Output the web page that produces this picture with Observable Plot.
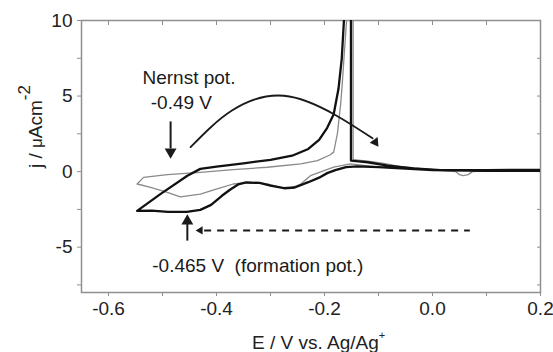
<!DOCTYPE html>
<html><head><meta charset="utf-8">
<script src="https://cdn.jsdelivr.net/npm/d3@7"></script>
<script src="https://cdn.jsdelivr.net/npm/@observablehq/plot@0.6"></script>
<style>body{margin:0;background:#fff} svg{display:block}</style>
</head><body><div id="chart"></div>
<script>
// Thick black cycle (E in V, j in µA cm^-2)
const thickE = [-0.547,-0.504,-0.454,-0.430,-0.40,-0.35,-0.30,-0.26,-0.23,-0.21,-0.195,-0.183,-0.174,-0.168,-0.164,-0.162,-0.151,-0.151,-0.137,-0.12,-0.083,-0.035,0.015,0.1,0.2,
  0.2,0.1,0.0,-0.05,-0.1,-0.14,-0.16,-0.18,-0.195,-0.21,-0.23,-0.255,-0.275,-0.30,-0.32,-0.345,-0.36,-0.375,-0.39,-0.41,-0.43,-0.455,-0.49,-0.52,-0.547];
const thickJ = [-2.6,-1.49,-0.27,0.18,0.33,0.55,0.78,1.05,1.5,2.1,2.9,3.8,5.5,7.5,10,12,12,0.73,0.68,0.62,0.4,0.22,0.1,0.1,0.12,
  0.05,0.05,0.1,0.2,0.3,0.35,0.3,0.1,-0.1,-0.4,-0.7,-1.05,-1.1,-0.93,-0.75,-0.72,-0.85,-1.2,-1.6,-2.2,-2.53,-2.67,-2.67,-2.58,-2.6];
// Thin grey cycle
const grayE = [-0.547,-0.535,-0.491,-0.430,-0.369,-0.306,-0.244,-0.213,-0.19,-0.183,-0.176,-0.170,-0.167,-0.163,-0.159,-0.157,-0.147,-0.147,-0.12,-0.09,-0.059,-0.004,0.043,0.05,0.057,0.066,0.074,0.12,0.2,
  0.2,0.1,0.0,-0.05,-0.1,-0.152,-0.183,-0.226,-0.244,-0.263,-0.281,-0.306,-0.337,-0.369,-0.399,-0.430,-0.467,-0.491,-0.522,-0.547];
const grayJ = [-0.82,-0.38,-0.2,-0.05,0.13,0.29,0.51,0.73,1.1,1.29,2.53,4.5,5.87,8,10.07,12,12,0.8,0.7,0.55,0.33,0.13,0.0,-0.2,-0.27,-0.2,0.0,0.08,0.1,
  0.05,0.05,0.15,0.25,0.3,0.51,0.29,-0.27,-0.82,-1.09,-1.05,-0.82,-0.71,-0.82,-1.15,-1.49,-1.67,-1.38,-1.05,-0.82];
// Curved arrow (annotation)
const curveE = [-0.448,-0.37,-0.275,-0.18,-0.111];
const curveJ = [1.62,4.07,5.02,3.75,2.2];
// Annotation arrows
const nernstE = -0.485, nernstJ = [3.29, 1.5], nernstHeadJ = 1.31;
const formE = -0.454, formJ = [-4.6, -3.4], formHeadJ = -3.28;
const dashJ = -3.89, dashE = [-0.43, 0.07], dashHeadE = -0.43;
const curveHead = {E: -0.106, J: 1.95};
// Texts
const centredLabels = [
  {E: -0.451, J: 6.22, text: "Nernst pot."},
  {E: -0.465, J: 4.53, text: "-0.49 V"}
];
const startLabels = [
  {E: -0.519, J: -6.27, text: "-0.465 V  (formation pot.)"}
];
// Ticks
const xTicks = [-0.6,-0.5,-0.4,-0.3,-0.2,-0.1,0,0.1,0.2];
const xTickLabels = ["-0.6","","-0.4","","-0.2","","0.0","","0.2"];
const yTicks = [-7.5,-5,-2.5,0,2.5,5,7.5,10];
const yTickLabels = ["","-5","","0","","5","","10"];

const thick = thickE.map((e,i)=>({E:e, J:thickJ[i]}));
const gray = grayE.map((e,i)=>({E:e, J:grayJ[i]}));
const curve = curveE.map((e,i)=>({E:e, J:curveJ[i]}));
const xFmt = d => xTickLabels[xTicks.findIndex(t => Math.abs(t-d) < 1e-9)] ?? "";
const yFmt = d => yTickLabels[yTicks.findIndex(t => Math.abs(t-d) < 1e-9)] ?? "";
const ink = "#1a1a1a";

const plot = Plot.plot({
  width: 553, height: 352,
  marginLeft: 81, marginRight: 13, marginTop: 20, marginBottom: 60,
  style: {fontFamily: "'Liberation Sans', Arial, sans-serif", fontSize: "19px", color: "#222", background: "#fff"},
  x: {domain: [-0.65, 0.2], label: null},
  y: {domain: [-8, 10], label: null},
  marks: [
    Plot.frame({stroke: "#8f8f8f", strokeWidth: 1.5}),
    Plot.axisX({ticks: xTicks, tickFormat: xFmt, tickSize: 4, tickPadding: 5, stroke: "#8f8f8f", fontSize: 19, fill: "#222"}),
    Plot.axisX({anchor: "top", ticks: xTicks, tickFormat: () => "", tickSize: -4, stroke: "#8f8f8f"}),
    Plot.axisY({ticks: yTicks, tickFormat: yFmt, tickSize: 4, tickPadding: 5, stroke: "#8f8f8f", fontSize: 19, fill: "#222"}),
    Plot.axisY({anchor: "right", ticks: yTicks, tickFormat: () => "", tickSize: -4, stroke: "#8f8f8f"}),
    Plot.line(gray, {x: "E", y: "J", stroke: "#8a8a8a", strokeWidth: 1.3, clip: true}),
    Plot.line(thick, {x: "E", y: "J", stroke: "#111", strokeWidth: 2.3, clip: true}),
    Plot.line(curve, {x: "E", y: "J", curve: "natural", stroke: ink, strokeWidth: 1.8}),
    Plot.dot([curveHead], {x: "E", y: "J", symbol: "triangle", r: 3.6, fill: ink, stroke: null, rotate: 145}),
    Plot.ruleX([nernstE], {y1: nernstJ[0], y2: nernstJ[1], stroke: ink, strokeWidth: 2}),
    Plot.dot([{E: nernstE, J: nernstHeadJ}], {x: "E", y: "J", symbol: "triangle", r: 4.4, fill: ink, stroke: null, rotate: 180}),
    Plot.ruleX([formE], {y1: formJ[0], y2: formJ[1], stroke: ink, strokeWidth: 2}),
    Plot.dot([{E: formE, J: formHeadJ}], {x: "E", y: "J", symbol: "triangle", r: 4.4, fill: ink, stroke: null, rotate: 0}),
    Plot.ruleY([dashJ], {x1: dashE[0] + 0.008, x2: dashE[1], stroke: ink, strokeWidth: 2, strokeDasharray: "7,6"}),
    Plot.dot([{E: dashHeadE, J: dashJ}], {x: "E", y: "J", symbol: "triangle", r: 3, fill: ink, stroke: null, rotate: -90}),
    Plot.text(centredLabels, {x: "E", y: "J", text: "text", textAnchor: "middle", fontSize: 19, fill: "#1a1a1a"}),
    Plot.text(startLabels, {x: "E", y: "J", text: "text", textAnchor: "start", fontSize: 19, fill: "#1a1a1a"})
  ]
});
document.getElementById("chart").appendChild(plot);

const svg = d3.select(plot);
const fam = "'Liberation Sans', Arial, sans-serif";
// x axis label
const xl = svg.append("text").attr("x", 252).attr("y", 349).attr("text-anchor", "start").attr("font-family", fam).attr("font-size", 19).attr("fill", "#222");
xl.append("tspan").text("E / V vs. Ag/Ag");
xl.append("tspan").attr("dy", -10).attr("font-size", 11).text("+");
// y axis label
const yl = svg.append("text").attr("transform", "translate(42,168) rotate(-90)").attr("text-anchor", "start").attr("font-family", fam).attr("font-size", 19).attr("fill", "#222");
yl.append("tspan").text("j / ");
yl.append("tspan").attr("font-size", 17).text("μ");
yl.append("tspan").text("Acm");
yl.append("tspan").attr("dy", -12).attr("font-size", 17).text("-2");
</script>
</body></html>
